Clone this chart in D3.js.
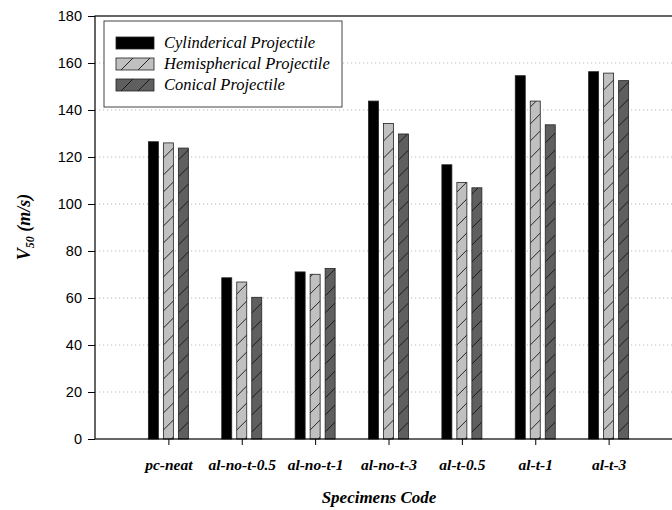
<!DOCTYPE html>
<html>
<head>
<meta charset="utf-8">
<script src="https://cdn.jsdelivr.net/npm/d3@7"></script>
<style>
  body { margin: 0; background: #fff; }
  svg { display: block; }
</style>
</head>
<body>
<svg width="672" height="510"></svg>
<script>
var categories = ["pc-neat", "al-no-t-0.5", "al-no-t-1", "al-no-t-3", "al-t-0.5", "al-t-1", "al-t-3"];
var seriesNames = ["Cylinderical Projectile", "Hemispherical Projectile", "Conical Projectile"];
var cylinderical = [126.5, 68.6, 71.1, 143.8, 116.7, 154.6, 156.3];
var hemispherical = [126.0, 66.8, 70.1, 134.3, 109.2, 143.8, 155.7];
var conical = [123.8, 60.3, 72.6, 129.8, 106.9, 133.7, 152.5];
var yTicks = [0, 20, 40, 60, 80, 100, 120, 140, 160, 180];

var seriesValues = [cylinderical, hemispherical, conical];
var fills = ["#000000", "url(#hatchLight)", "url(#hatchDark)"];

var svg = d3.select("svg");

// plot area (right side runs past the window, like the reference)
var plotLeft = 95, plotTop = 16, plotBottom = 439, plotRight = 682;

var x = d3.scaleLinear().domain([0, categories.length + 1]).range([plotLeft, plotRight]);
var xSub = d3.scaleBand().domain(seriesNames).range([-20, 20]).paddingInner(1 / 3);
var y = d3.scaleLinear().domain([0, 180]).range([plotBottom, plotTop]);

// hatch patterns
var defs = svg.append("defs");
[["hatchLight", "#c0c0c0"], ["hatchDark", "#5f5f5f"]].forEach(function(p) {
  var pat = defs.append("pattern")
      .attr("id", p[0])
      .attr("patternUnits", "userSpaceOnUse")
      .attr("width", 17).attr("height", 17);
  pat.append("rect").attr("width", 17).attr("height", 17).attr("fill", p[1]);
  pat.append("path")
      .attr("d", "M0,17 L17,0 M-4,4 L4,-4 M13,21 L21,13")
      .attr("stroke", "#111").attr("stroke-width", 0.9);
});

// grid
svg.append("g")
  .selectAll("line")
  .data(yTicks.filter(function(d) { return d > 0 && d < 180; }))
  .enter().append("line")
    .attr("x1", plotLeft).attr("x2", plotRight)
    .attr("y1", function(d) { return y(d); })
    .attr("y2", function(d) { return y(d); })
    .attr("stroke", "#b8b8b8")
    .attr("stroke-width", 1)
    .attr("stroke-dasharray", "1.2,2.8");

// bars
var groups = svg.append("g")
  .selectAll("g")
  .data(categories)
  .enter().append("g")
    .attr("transform", function(d, i) { return "translate(" + x(i + 1) + ",0)"; });

groups.selectAll("rect")
  .data(function(d, i) {
    return seriesNames.map(function(s, k) { return { s: s, k: k, v: seriesValues[k][i] }; });
  })
  .enter().append("rect")
    .attr("x", function(d) { return xSub(d.s); })
    .attr("width", xSub.bandwidth())
    .attr("y", function(d) { return y(d.v); })
    .attr("height", function(d) { return y(0) - y(d.v); })
    .attr("fill", function(d) { return fills[d.k]; })
    .attr("stroke", "#222")
    .attr("stroke-width", 0.8);

// frame
svg.append("rect")
  .attr("x", plotLeft).attr("y", plotTop)
  .attr("width", plotRight - plotLeft).attr("height", plotBottom - plotTop)
  .attr("fill", "none").attr("stroke", "#000").attr("stroke-width", 1.2);

// y axis
var yAxis = svg.append("g")
  .attr("transform", "translate(" + plotLeft + ",0)")
  .call(d3.axisLeft(y).tickValues(yTicks).tickSizeOuter(0).tickSize(7).tickPadding(6));
yAxis.select(".domain").remove();
yAxis.selectAll("text")
  .style("font-family", "Liberation Sans, Arial, sans-serif")
  .style("font-size", "14.5px")
  .attr("fill", "#000");

// x axis
var xAxis = svg.append("g")
  .attr("transform", "translate(0," + plotBottom + ")")
  .call(d3.axisBottom(x)
    .tickValues(d3.range(1, categories.length + 1))
    .tickFormat(function(d) { return categories[d - 1]; })
    .tickSize(6).tickSizeOuter(0).tickPadding(14));
xAxis.select(".domain").remove();
xAxis.selectAll("text")
  .style("font-family", "Liberation Serif, Times New Roman, serif")
  .style("font-size", "15.5px")
  .style("font-weight", "bold")
  .style("font-style", "italic")
  .attr("fill", "#000");

// axis titles
svg.append("text")
  .attr("x", 379).attr("y", 503)
  .attr("text-anchor", "middle")
  .style("font-family", "Liberation Serif, Times New Roman, serif")
  .style("font-size", "17px")
  .style("font-weight", "bold")
  .style("font-style", "italic")
  .text("Specimens Code");

var yTitle = svg.append("text")
  .attr("transform", "translate(30,227) rotate(-90)")
  .attr("text-anchor", "middle")
  .style("font-family", "Liberation Serif, Times New Roman, serif")
  .style("font-size", "18px")
  .style("font-weight", "bold")
  .style("font-style", "italic");
yTitle.append("tspan").text("V");
yTitle.append("tspan").attr("dy", 4).style("font-size", "12px").text("50");
yTitle.append("tspan").attr("dy", -4).text(" (m/s)");

// legend
var legend = svg.append("g").attr("transform", "translate(104,21)");
legend.append("rect")
  .attr("width", 238).attr("height", 86)
  .attr("fill", "#fff").attr("stroke", "#444").attr("stroke-width", 1);

var items = legend.selectAll("g.item")
  .data(seriesNames)
  .enter().append("g")
    .attr("class", "item")
    .attr("transform", function(d, i) { return "translate(12," + (16 + i * 21) + ")"; });

items.append("rect")
  .attr("width", 38).attr("height", 12)
  .attr("fill", function(d, i) { return fills[i]; })
  .attr("stroke", "#222").attr("stroke-width", 0.8);

items.append("text")
  .attr("x", 48).attr("y", 11)
  .style("font-family", "Liberation Serif, Times New Roman, serif")
  .style("font-size", "16.5px")
  .style("font-style", "italic")
  .attr("fill", "#000")
  .text(function(d) { return d; });
</script>
</body>
</html>
